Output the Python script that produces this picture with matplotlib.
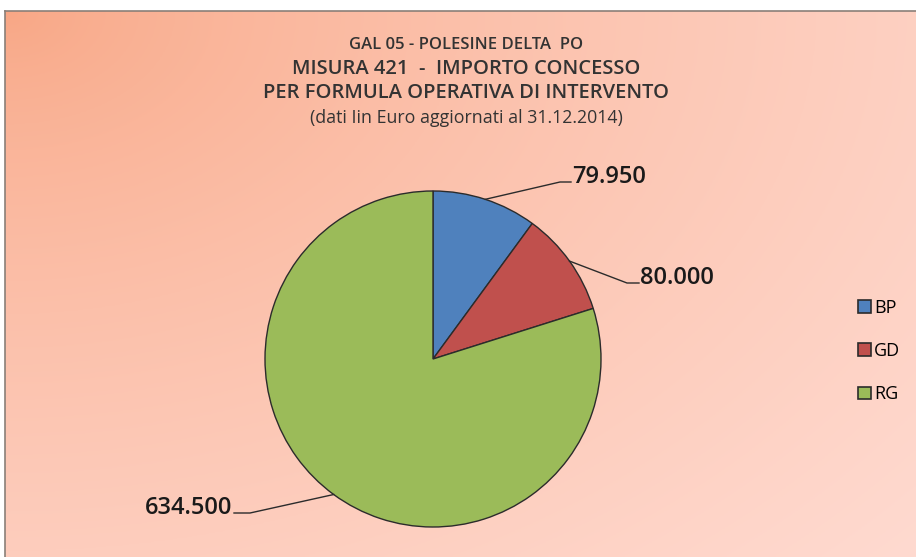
import numpy as np
import matplotlib
matplotlib.use("Agg")
import matplotlib.pyplot as plt

# ---- data ----
categories = ["BP", "GD", "RG"]
values = [79950, 80000, 634500]
value_labels = ["79.950", "80.000", "634.500"]
colors = ["#4F81BD", "#C0504D", "#9BBB59"]
title_lines = ["GAL 05 - POLESINE DELTA  PO",
               "MISURA 421  -  IMPORTO CONCESSO",
               "PER FORMULA OPERATIVA DI INTERVENTO",
               "(dati Iin Euro aggiornati al 31.12.2014)"]

W, H = 916, 557
fig = plt.figure(figsize=(W / 100, H / 100), dpi=100)
fig.patch.set_facecolor("white")

# ---- gradient background ----
bg = fig.add_axes([5 / W, 0, 1 - 5 / W, (H - 11) / H])
bg.set_axis_off()
ny, nx = 200, 300
yy, xx = np.mgrid[0:1:ny * 1j, 0:1:nx * 1j]
d = np.sqrt((xx * 1.0) ** 2 + (yy * 0.9) ** 2) / np.sqrt(1 + 0.81)
d = np.clip(d, 0, 1) ** 0.7
c0 = np.array([248, 166, 132]) / 255.0
c1 = np.array([255, 218, 208]) / 255.0
img = c0[None, None, :] * (1 - d[..., None]) + c1[None, None, :] * d[..., None]
bg.imshow(img, aspect="auto", extent=[0, 1, 0, 1], origin="upper")
bg.set_xlim(0, 1)
bg.set_ylim(0, 1)
# border top and left
fig.add_artist(plt.Line2D([5 / W, 1], [(H - 11) / H] * 2, color="#8a7f78", lw=1.2))
fig.add_artist(plt.Line2D([5 / W] * 2, [0, (H - 11) / H], color="#8a7f78", lw=1.2))

# ---- pie ----
cx, cy, r = 433, 359, 168
ax = fig.add_axes([(cx - r) / W, (H - cy - r) / H, 2 * r / W, 2 * r / H])
ax.set_axis_off()
wedges, _ = ax.pie(values, colors=colors, startangle=90, counterclock=False,
                   wedgeprops=dict(edgecolor="#2b2b2b", linewidth=1.0))
ax.set_xlim(-1, 1)
ax.set_ylim(-1, 1)

def px(x, y):
    return ((x - cx) / r, (cy - y) / r)

total = sum(values)
cum = 0
label_pos = [(560, 182, 571, 182, "left"),
             (627, 283, 639, 283, "left"),
             (250, 513, 234, 513, "right")]
for v, lab, (kx, ky, tx, ty, ha) in zip(values, value_labels, label_pos):
    mid = 90 - 360 * (cum + v / 2) / total
    cum += v
    p0 = (np.cos(np.radians(mid)), np.sin(np.radians(mid)))
    k = px(kx, ky)
    t = px(tx, ty)
    ax.plot([p0[0], k[0], t[0]], [p0[1], k[1], t[1]],
            color="#2b2b2b", lw=1.0, clip_on=False)
    ax.text(t[0] + (0.008 if ha == "left" else -0.008), t[1] - 0.005, lab, ha=ha,
            va="baseline", fontsize=17, fontfamily="Open Sans", fontweight="semibold",
            color="#1a1a1a", clip_on=False)

# ---- title ----
tcx = 466 / W
sizes = [12, 14.5, 14.5, 12.8]
weights = ["semibold", "semibold", "semibold", "normal"]
ys = [45, 69, 93, 118]
for line, s, w, y in zip(title_lines, sizes, weights, ys):
    fig.text(tcx, (H - y) / H, line, ha="center", va="center", fontsize=s,
             fontweight=w, fontfamily="Open Sans", color="#333333")

# ---- legend ----
fig.legend(wedges, categories, loc="center left", bbox_to_anchor=(842 / W, (H - 351) / H),
           frameon=False, handlelength=0.68, handleheight=0.68, handletextpad=0.2,
           labelspacing=1.4, prop=dict(family="Open Sans", size=13))
for h in fig.legends[0].legend_handles:
    h.set_edgecolor("#2b2b2b")
    h.set_linewidth(1.2)

fig.savefig("out.png", dpi=100)
